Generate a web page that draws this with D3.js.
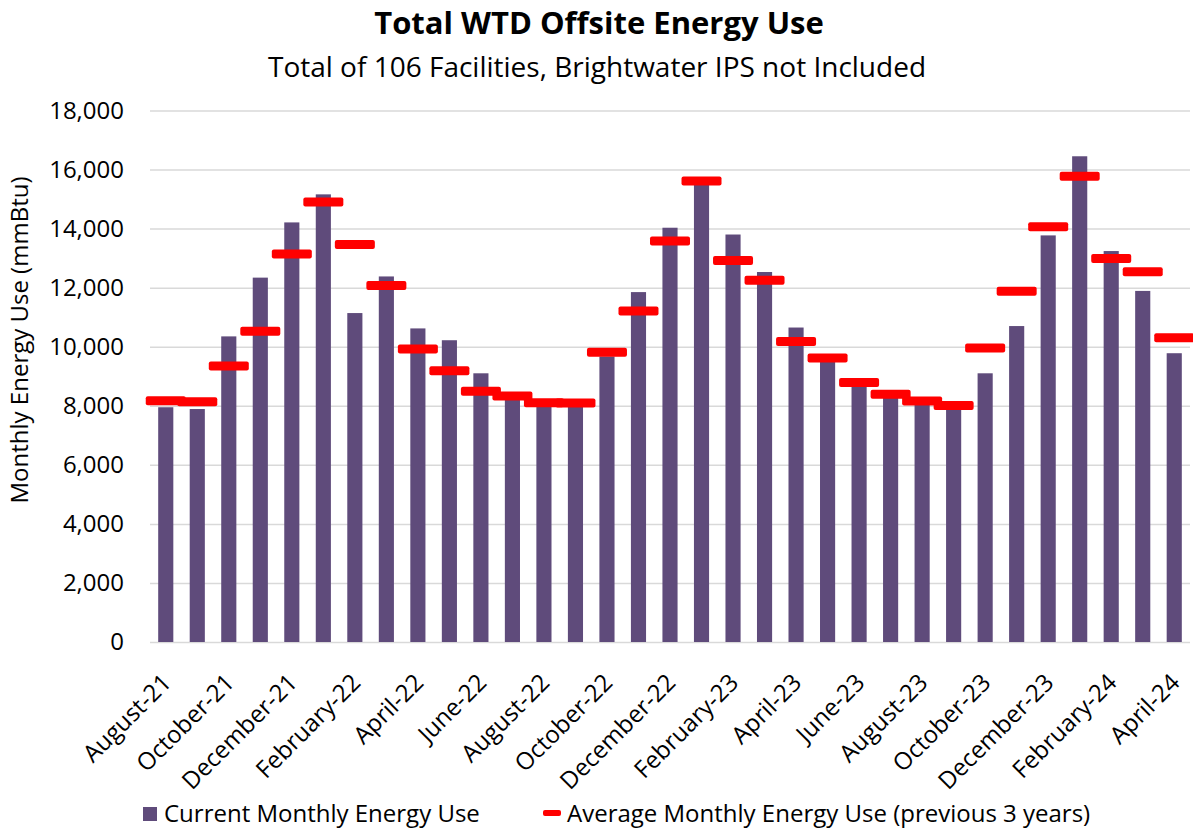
<!DOCTYPE html>
<html>
<head>
<meta charset="utf-8">
<script src="https://cdn.jsdelivr.net/npm/d3@7"></script>
<style>
  body { margin: 0; background: #fff; }
  text { font-family: "Open Sans", sans-serif; fill: #000; }
</style>
</head>
<body>
<div id="chart"></div>
<script>

// Month labels, August 2021 through April 2024
const months = [
  "August-21", "September-21", "October-21", "November-21", "December-21",
  "January-22", "February-22", "March-22", "April-22", "May-22", "June-22",
  "July-22", "August-22", "September-22", "October-22", "November-22", "December-22",
  "January-23", "February-23", "March-23", "April-23", "May-23", "June-23",
  "July-23", "August-23", "September-23", "October-23", "November-23", "December-23",
  "January-24", "February-24", "March-24", "April-24"
];

// Current monthly energy use (mmBtu)
const currentUse = [
  7950, 7890, 10350, 12340, 14210,
  15160, 11140, 12380, 10620, 10220, 9100,
  8250, 8050, 8000, 9670, 11850, 14030,
  15500, 13800, 12530, 10650, 9500, 8700,
  8300, 8100, 7900, 9100, 10700, 13770,
  16450, 13240, 11890, 9780
];

// Average monthly energy use, previous 3 years (mmBtu)
const averageUse = [
  8170, 8140, 9350, 10520, 13140,
  14900, 13460, 12070, 9920, 9190, 8490,
  8330, 8100, 8090, 9810, 11210, 13580,
  15610, 12920, 12250, 10180, 9620, 8790,
  8390, 8160, 8010, 9960, 11880, 14060,
  15770, 12990, 12540, 10300
];

const yTicks = [0, 2000, 4000, 6000, 8000, 10000, 12000, 14000, 16000, 18000];

const barColor = "#5f4b7b",
      avgColor = "#ff0000",
      gridColor = "#d9d9d9";

// Set dimensions and margins
const W = 1193, H = 830;
const margin = {top: 110.5, right: 3, bottom: 188, left: 150},
    width = W - margin.left - margin.right,
    height = H - margin.top - margin.bottom;

const svg = d3.select("#chart")
  .append("svg")
    .attr("width", W)
    .attr("height", H);

// Title and subtitle
svg.append("text")
    .attr("x", 599).attr("y", 34)
    .attr("text-anchor", "middle")
    .style("font-size", "31px")
    .style("font-weight", "bold")
    .text("Total WTD Offsite Energy Use");

svg.append("text")
    .attr("x", 597).attr("y", 77)
    .attr("text-anchor", "middle")
    .style("font-size", "28px")
    .text("Total of 106 Facilities, Brightwater IPS not Included");

const g = svg.append("g")
    .attr("transform", `translate(${margin.left}, ${margin.top})`);

const xScale = d3.scaleBand()
  .domain(months)
  .range([0, width])
  .paddingInner(0.52)
  .paddingOuter(0.26);

const yScale = d3.scaleLinear()
  .domain([0, 18000])
  .range([height, 0]);

// Gridlines and y labels
const yAxis = g.append("g")
  .call(d3.axisLeft(yScale)
    .tickValues(yTicks)
    .tickSize(-width)
    .tickPadding(26)
    .tickFormat(d3.format(",")));
yAxis.select(".domain").remove();
yAxis.selectAll(".tick line")
  .attr("stroke", gridColor)
  .attr("stroke-width", 1.5);
yAxis.selectAll(".tick text")
  .style("font-size", "24px")
  .style("font-family", "'Open Sans', sans-serif")
  .attr("fill", "#000");

// Bars
g.append("g")
  .selectAll("rect")
  .data(months)
  .join("rect")
    .attr("x", d => xScale(d))
    .attr("width", xScale.bandwidth())
    .attr("y", (d, i) => yScale(currentUse[i]))
    .attr("height", (d, i) => height - yScale(currentUse[i]))
    .attr("fill", barColor);

// Average dashes
const dashW = 40, dashH = 9;
g.append("g")
  .selectAll("rect")
  .data(months)
  .join("rect")
    .attr("x", d => xScale(d) + xScale.bandwidth() / 2 - dashW / 2)
    .attr("width", dashW)
    .attr("y", (d, i) => yScale(averageUse[i]) - dashH / 2)
    .attr("height", dashH)
    .attr("rx", 2)
    .attr("fill", avgColor);

// X labels (every other month), rotated
g.append("g")
  .selectAll("text")
  .data(months.filter((d, i) => i % 2 === 0))
  .join("text")
    .attr("text-anchor", "end")
    .attr("transform", d => `translate(${xScale(d) + xScale.bandwidth() / 2 + 7}, ${height + 42}) rotate(-45)`)
    .style("font-size", "24px")
    .text(d => d);

// Y axis title
svg.append("text")
    .attr("transform", "translate(28, 340) rotate(-90)")
    .attr("text-anchor", "middle")
    .style("font-size", "24px")
    .text("Monthly Energy Use (mmBtu)");

// Legend
const legend = svg.append("g");
legend.append("rect")
    .attr("x", 143).attr("y", 807)
    .attr("width", 14).attr("height", 14)
    .attr("fill", barColor);
legend.append("text")
    .attr("x", 164).attr("y", 822)
    .style("font-size", "24px")
    .text("Current Monthly Energy Use");
legend.append("rect")
    .attr("x", 543).attr("y", 810)
    .attr("width", 18).attr("height", 6)
    .attr("rx", 2)
    .attr("fill", avgColor);
legend.append("text")
    .attr("x", 567).attr("y", 822)
    .style("font-size", "24px")
    .text("Average Monthly Energy Use (previous 3 years)");

</script>
</body>
</html>
